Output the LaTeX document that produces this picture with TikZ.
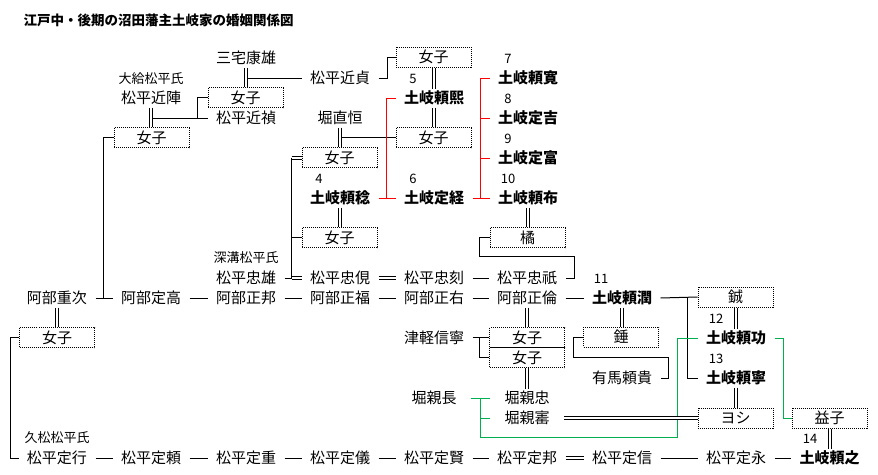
\documentclass[tikz,border=0pt]{standalone}
\usepackage{fontspec}
\setmainfont{Noto Sans CJK JP}
\usetikzlibrary{calc}
\definecolor{kred}{RGB}{255,0,0}
\definecolor{kgreen}{RGB}{0,176,80}

\begin{document}
\begin{tikzpicture}[x=1pt, y=-1pt, line width=1pt,
    nm/.style={font=\fontsize{15}{15}\selectfont, inner xsep=8pt, inner ysep=0pt, minimum height=18pt},
    lord/.style={nm, font=\fontsize{15}{15}\selectfont\bfseries},
    fbox/.style={draw, dash pattern=on 1pt off 1pt, minimum width=75pt, minimum height=20pt, inner sep=0pt, font=\fontsize{15}{15}\selectfont},
    clan/.style={font=\fontsize{13}{13}\selectfont, inner sep=0pt},
    num/.style={font=\fontsize{13}{13}\selectfont, inner sep=0pt},
    dbl/.style={double, double distance=2pt},
    redln/.style={draw=kred},
    grnln/.style={draw=kgreen}]
    \fill[white] (0,0) rectangle (878,474);
    \useasboundingbox (0,0) rectangle (878,474);

    \node[anchor=west, inner sep=0pt, font=\fontsize{13.5}{13.5}\selectfont\bfseries] (title) at (23,20) {江戸中・後期の沼田藩主土岐家の婚姻関係図};

    \node[nm] (miyake) at (246,58) {三宅康雄};
    \node[clan] (ogyu) at (151,79) {大給松平氏};
    \node[nm] (chikanobu) at (151,98) {松平近陣};
    \node[fbox] (fA) at (245.5,97.5) {女子};
    \node[nm] (chikayoshi) at (246,118) {松平近禎};
    \node[fbox] (fB) at (151.5,137.5) {女子};
    \node[nm] (chikasada) at (340,78) {松平近貞};
    \node[fbox] (fC) at (433.5,57) {女子};
    \node[num] (n5) at (413,79) {5};
    \node[lord] (yorihiro) at (434,98) {土岐頼熙};
    \node[nm] (naotsune) at (340,118) {堀直恒};
    \node[fbox] (fD) at (433.5,137.5) {女子};
    \node[fbox] (fE) at (339.5,157.5) {女子};
    \node[num] (n4) at (319,179) {4};
    \node[lord] (yoritoshi) at (340,198) {土岐頼稔};
    \node[num] (n6) at (413,179) {6};
    \node[lord] (sadatsune) at (434,198) {土岐定経};
    \node[num] (n7) at (508,59) {7};
    \node[lord] (yorinobu) at (528,78) {土岐頼寛};
    \node[num] (n8) at (508,99) {8};
    \node[lord] (sadayoshi) at (528,118) {土岐定吉};
    \node[num] (n9) at (508,139) {9};
    \node[lord] (sadatomi) at (528,158) {土岐定富};
    \node[num] (n10) at (508,179) {10};
    \node[lord] (yorinori) at (528,198) {土岐頼布};
    \node[fbox] (fF) at (339.5,237.5) {女子};
    \node[fbox] (tachibana) at (527.5,237.5) {橘};

    \node[clan] (fukozu) at (246,258) {深溝松平氏};
    \node[nm] (tadakatsu) at (246,278) {松平忠雄};
    \node[nm] (tadachika) at (340,278) {松平忠俔};
    \node[nm] (tadatoki) at (434,278) {松平忠刻};
    \node[nm] (tadamasa) at (527,278) {松平忠祇};
    \node[num] (n11) at (601,279) {11};

    \node[nm] (shigetsugu) at (57,298) {阿部重次};
    \node[nm] (sadataka) at (151,298) {阿部定高};
    \node[nm] (masakuni) at (246,298) {阿部正邦};
    \node[nm] (masayoshi) at (340,298) {阿部正福};
    \node[nm] (masasuke) at (434,298) {阿部正右};
    \node[nm] (masatomo) at (527,298) {阿部正倫};
    \node[lord] (yorimitsu) at (622,298) {土岐頼潤};
    \node[fbox] (sui) at (735.5,297) {鋮};
    \node[num] (n12) at (716,319) {12};
    \node[lord] (yoriisa) at (736,338) {土岐頼功};
    \node[num] (n13) at (716,359) {13};
    \node[lord] (yoriyasu) at (736,378) {土岐頼寧};

    \node[fbox] (fG) at (57,337.5) {女子};
    \node[nm] (nobuyasu) at (434,337.5) {津軽信寧};
    \node[fbox] (fH) at (527,337.5) {女子};
    \node[fbox] (fI) at (527,357.5) {女子};
    \node[fbox] (tsumu) at (621,337) {錘};
    \node[nm] (arima) at (622,378) {有馬頼貴};
    \node[nm] (chikanaga) at (434,398) {堀親長};
    \node[nm] (chikatada) at (527,398) {堀親忠};
    \node[nm] (chikashige) at (527,418) {堀親寚};
    \node[fbox] (yoshi) at (735.5,418) {ヨシ};
    \node[fbox] (ekiko) at (829.5,418) {益子};
    \node[num] (n14) at (810,439) {14};

    \node[clan] (hisamatsu) at (57,438) {久松松平氏};
    \node[nm] (sadayuki) at (57,458) {松平定行};
    \node[nm] (sadayori) at (151,458) {松平定頼};
    \node[nm] (sadashige) at (246,458) {松平定重};
    \node[nm] (sadanori) at (340,458) {松平定儀};
    \node[nm] (sadakata) at (434,458) {松平定賢};
    \node[nm] (sadakuni) at (527,458) {松平定邦};
    \node[nm] (sadanobu) at (622,458) {松平定信};
    \node[nm] (sadanaga) at (736,458) {松平定永};
    \node[lord] (yoriyuki) at (829.5,458) {土岐頼之};

    \draw (miyake.south |- chikasada.west) -- (chikasada.west);
    \draw (chikasada.east) -- ++(9,0) |- (fC.west);
    \draw (chikanobu.south |- chikayoshi.west) -- (chikayoshi.west);
    \draw (fA.west) -- ++(-10,0) |- (chikayoshi.west);
    \draw (fB.west) -- ++(-10,0) |- (sadataka.west);
    \draw (naotsune.south |- fD.west) -- (fD.west);
    \draw (tachibana.west) -- ++(-10,0) -- ++(0,19) -| ([xshift=9pt]tadamasa.east) -- (tadamasa.east);
    \draw (tadakatsu.east) -- ([xshift=-10pt]tadachika.west);
    \draw ([xshift=-10pt]fF.west) -- (fF.west);
    \draw (tadatoki.east) -- (tadamasa.west);
    \foreach \a/\b in {shigetsugu/sadataka, sadataka/masakuni, masakuni/masayoshi, masayoshi/masasuke, masasuke/masatomo, masatomo/yorimitsu,
        sadayuki/sadayori, sadayori/sadashige, sadashige/sadanori, sadanori/sadakata, sadakata/sadakuni, sadanobu/sadanaga, sadanaga/yoriyuki}
        \draw (\a.east) -- (\b.west);
    \draw (yorimitsu.east) -- (sui.west);
    \draw ([xshift=-10pt]sui.west) |- (yoriyasu.west);
    \draw (nobuyasu.east) -- (fH.west);
    \draw ([xshift=-10pt]fH.west) |- (fI.west);
    \draw (tsumu.west) -- ++(-10,0) -- ++(0,20) -| ([xshift=8pt]arima.east) -- (arima.east);
    \draw (fG.west) -- ++(-9,0) |- (sadayuki.west);

    \draw[redln] (yoritoshi.east) -- (sadatsune.west);
    \draw[redln] ([xshift=8pt]yoritoshi.east) |- (yorihiro.west);
    \draw[redln] (sadatsune.east) -- (yorinori.west);
    \foreach \t in {yorinobu, sadayoshi, sadatomi}
        \draw[redln] ([xshift=8pt]sadatsune.east) |- (\t.west);

    \coordinate (gj) at ($(chikanaga.east)!0.5!(chikatada.west)$);
    \draw[grnln, shorten <=6pt, shorten >=6pt] (chikanaga.east) -- (chikatada.west);
    \draw[grnln, shorten >=6pt] (gj) |- (chikashige.west);
    \draw[grnln] (gj) -- ++(0,39) -| ([xshift=-20pt]yoriisa.west) -- (yoriisa.west);
    \draw[grnln] (yoriisa.east) -- ++(9,0) |- (ekiko.west);

    \draw[dbl] (miyake.south) -- (miyake.south |- fA.north);
    \draw[dbl] (chikanobu.south) -- (chikanobu.south |- fB.north);
    \draw[dbl] (naotsune.south) -- (naotsune.south |- fE.north);
    \draw[dbl] (fC.south) -- (fC.south |- yorihiro.north);
    \draw[dbl] (yorihiro.south) -- (yorihiro.south |- fD.north);
    \draw[dbl] (yoritoshi.south) -- (yoritoshi.south |- fF.north);
    \draw[dbl] (yorinori.south) -- (yorinori.south |- tachibana.north);
    \draw[dbl] ([xshift=-10pt]fE.west) -- (fE.west);
    \draw[dbl] ([xshift=-10pt]tadachika.west) -- (tadachika.west);
    \draw[dbl] (tadachika.east) -- (tadatoki.west);
    \draw[dbl] (shigetsugu.south) -- (shigetsugu.south |- fG.north);
    \draw[dbl] (masatomo.south) -- (masatomo.south |- fH.north);
    \draw[dbl] (fI.south) -- (fI.south |- chikatada.north);
    \draw[dbl] (yorimitsu.south) -- (yorimitsu.south |- tsumu.north);
    \draw[dbl] (sui.south) -- (sui.south |- yoriisa.north);
    \draw[dbl] (yoriyasu.south) -- (yoriyasu.south |- yoshi.north);
    \draw[dbl, shorten <=6pt] (chikashige.east) -- (yoshi.west);
    \draw[dbl] (ekiko.south) -- (ekiko.south |- yoriyuki.north);
    \draw[dbl] (sadakuni.east) -- (sadanobu.west);
    \draw ([xshift=-10pt]fE.west) -- ([xshift=-10pt]tadachika.west);
\end{tikzpicture}
\end{document}
